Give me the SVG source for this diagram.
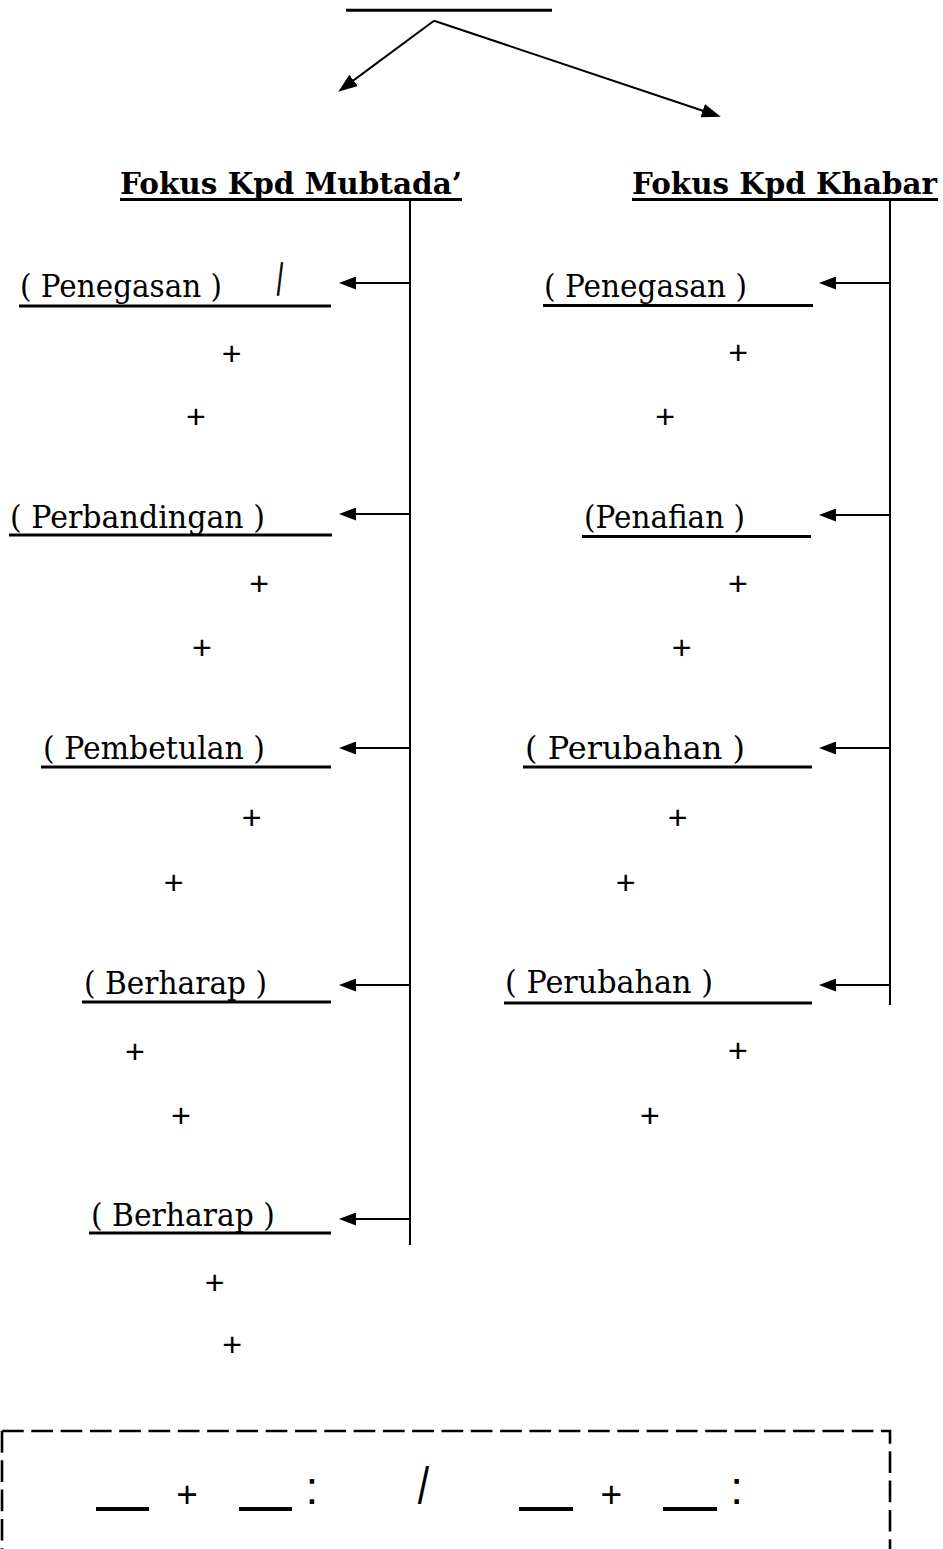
<svg xmlns="http://www.w3.org/2000/svg" width="943" height="1549" viewBox="0 0 943 1549">
<style>
.lbl{font-family:"DejaVu Serif","Liberation Serif",serif;font-size:31px;fill:#000}
.hd{font-family:"DejaVu Serif","Liberation Serif",serif;font-weight:bold;font-size:29px;fill:#000}
.pl{font-family:"Liberation Sans",Arial,sans-serif;font-size:34px;text-anchor:middle;fill:#000}
.big{font-family:"Liberation Sans",Arial,sans-serif;fill:#000}
.ul{stroke:#000;stroke-width:3;fill:none}
.conn{stroke:#000;stroke-width:2;fill:none}
.arr{stroke:#000;stroke-width:2;fill:none;marker-end:url(#ah)}
.arrb{stroke:#000;stroke-width:2;fill:none;marker-end:url(#ahb)}
</style>
<defs>
<marker id="ah" markerUnits="userSpaceOnUse" markerWidth="17" markerHeight="13" refX="9" refY="6.5" orient="auto"><path d="M0,0 L17,6.5 L0,13 z" fill="#000"/></marker>
<marker id="ahb" markerUnits="userSpaceOnUse" markerWidth="19" markerHeight="14" refX="8" refY="7" orient="auto"><path d="M0,0 L19,7 L0,14 z" fill="#000"/></marker>
</defs>
<rect width="943" height="1549" fill="#fff"/>

<g id="top">
<line x1="346" y1="10.3" x2="552" y2="10.3" stroke="#000" stroke-width="3"/>
</g>

<g id="connectors">
<line class="arrb" x1="434" y1="20.7" x2="347.1" y2="85.1"/>
<line class="arrb" x1="434" y1="20.7" x2="710.3" y2="113.2"/>
<line class="conn" x1="410" y1="199" x2="410" y2="1245"/>
<line class="conn" x1="890" y1="199" x2="890" y2="1005"/>
<line class="arr" x1="410" y1="283" x2="347" y2="283"/>
<line class="arr" x1="410" y1="514" x2="347" y2="514"/>
<line class="arr" x1="410" y1="748" x2="347" y2="748"/>
<line class="arr" x1="410" y1="985" x2="347" y2="985"/>
<line class="arr" x1="410" y1="1219" x2="347" y2="1219"/>
<line class="arr" x1="890" y1="283" x2="827" y2="283"/>
<line class="arr" x1="890" y1="515" x2="827" y2="515"/>
<line class="arr" x1="890" y1="748" x2="827" y2="748"/>
<line class="arr" x1="890" y1="985" x2="827" y2="985"/>
</g>

<g id="head-mubtada">
<text class="hd" x="120" y="194" textLength="342" lengthAdjust="spacingAndGlyphs">Fokus Kpd Mubtada’</text>
<line class="ul" x1="120" y1="199.5" x2="462" y2="199.5"/>
</g>
<g id="head-khabar">
<text class="hd" x="632" y="194" textLength="305" lengthAdjust="spacingAndGlyphs">Fokus Kpd Khabar</text>
<line class="ul" x1="632" y1="199.5" x2="938" y2="199.5"/>
</g>

<g id="left-1">
<text class="lbl" x="20" y="297" textLength="202" lengthAdjust="spacingAndGlyphs">( Penegasan )</text>
<text class="big" font-size="45" stroke="#000" stroke-width="1.6" transform="translate(277.3,295.1) scale(0.43,1)">/</text>
<line class="ul" x1="19" y1="306" x2="331" y2="306"/>
<text class="pl" x="231.7" y="364.5">+</text>
<text class="pl" x="196" y="428">+</text>
</g>
<g id="left-2">
<text class="lbl" x="10" y="528" textLength="255" lengthAdjust="spacingAndGlyphs">( Perbandingan )</text>
<line class="ul" x1="9" y1="535" x2="332" y2="535"/>
<text class="pl" x="259.3" y="595.3">+</text>
<text class="pl" x="202" y="659.3">+</text>
</g>
<g id="left-3">
<text class="lbl" x="43" y="759" textLength="222" lengthAdjust="spacingAndGlyphs">( Pembetulan )</text>
<line class="ul" x1="41" y1="767" x2="331" y2="767"/>
<text class="pl" x="251.7" y="829.3">+</text>
<text class="pl" x="173.7" y="894.3">+</text>
</g>
<g id="left-4">
<text class="lbl" x="84" y="994" textLength="183" lengthAdjust="spacingAndGlyphs">( Berharap )</text>
<line class="ul" x1="82" y1="1002" x2="331" y2="1002"/>
<text class="pl" x="135" y="1062.7">+</text>
<text class="pl" x="181" y="1127">+</text>
</g>
<g id="left-5">
<text class="lbl" x="91" y="1226" textLength="184" lengthAdjust="spacingAndGlyphs">( Berharap )</text>
<line class="ul" x1="89" y1="1233" x2="331" y2="1233"/>
<text class="pl" x="214.7" y="1293.7">+</text>
<text class="pl" x="232.3" y="1356">+</text>
</g>

<g id="right-1">
<text class="lbl" x="544" y="297" textLength="203" lengthAdjust="spacingAndGlyphs">( Penegasan )</text>
<line class="ul" x1="543" y1="305.5" x2="813" y2="305.5"/>
<text class="pl" x="738.3" y="364.3">+</text>
<text class="pl" x="665.3" y="428">+</text>
</g>
<g id="right-2">
<text class="lbl" x="584" y="528" textLength="161" lengthAdjust="spacingAndGlyphs">(Penafian )</text>
<line class="ul" x1="582" y1="536.5" x2="811" y2="536.5"/>
<text class="pl" x="738" y="595.3">+</text>
<text class="pl" x="681.7" y="658.7">+</text>
</g>
<g id="right-3">
<text class="lbl" x="525" y="759" textLength="220" lengthAdjust="spacingAndGlyphs">( Perubahan )</text>
<line class="ul" x1="523" y1="767" x2="812" y2="767"/>
<text class="pl" x="677.7" y="829.3">+</text>
<text class="pl" x="625.7" y="894.3">+</text>
</g>
<g id="right-4">
<text class="lbl" x="505" y="993" textLength="208" lengthAdjust="spacingAndGlyphs">( Perubahan )</text>
<line class="ul" x1="504" y1="1003" x2="812" y2="1003"/>
<text class="pl" x="738" y="1062">+</text>
<text class="pl" x="650" y="1127">+</text>
</g>

<g id="formula-box">
<path d="M2,1431 H890 V1570 M2,1431 V1570" stroke="#000" stroke-width="2.6" fill="none" stroke-dasharray="21.7 7.6"/>
<rect x="96" y="1507" width="53" height="4" fill="#000"/>
<text class="big" font-size="37" text-anchor="middle" x="187" y="1506.6">+</text>
<rect x="239" y="1507" width="53" height="4" fill="#000"/>
<text class="big" font-size="46" text-anchor="middle" x="312" y="1504">:</text>
<text class="big" font-size="51" transform="translate(417.7,1504) scale(0.8,1)">/</text>
<rect x="519" y="1507" width="54" height="4" fill="#000"/>
<text class="big" font-size="37" text-anchor="middle" x="611.3" y="1506.6">+</text>
<rect x="663" y="1507" width="54" height="4" fill="#000"/>
<text class="big" font-size="46" text-anchor="middle" x="736.7" y="1504">:</text>
</g>
</svg>
